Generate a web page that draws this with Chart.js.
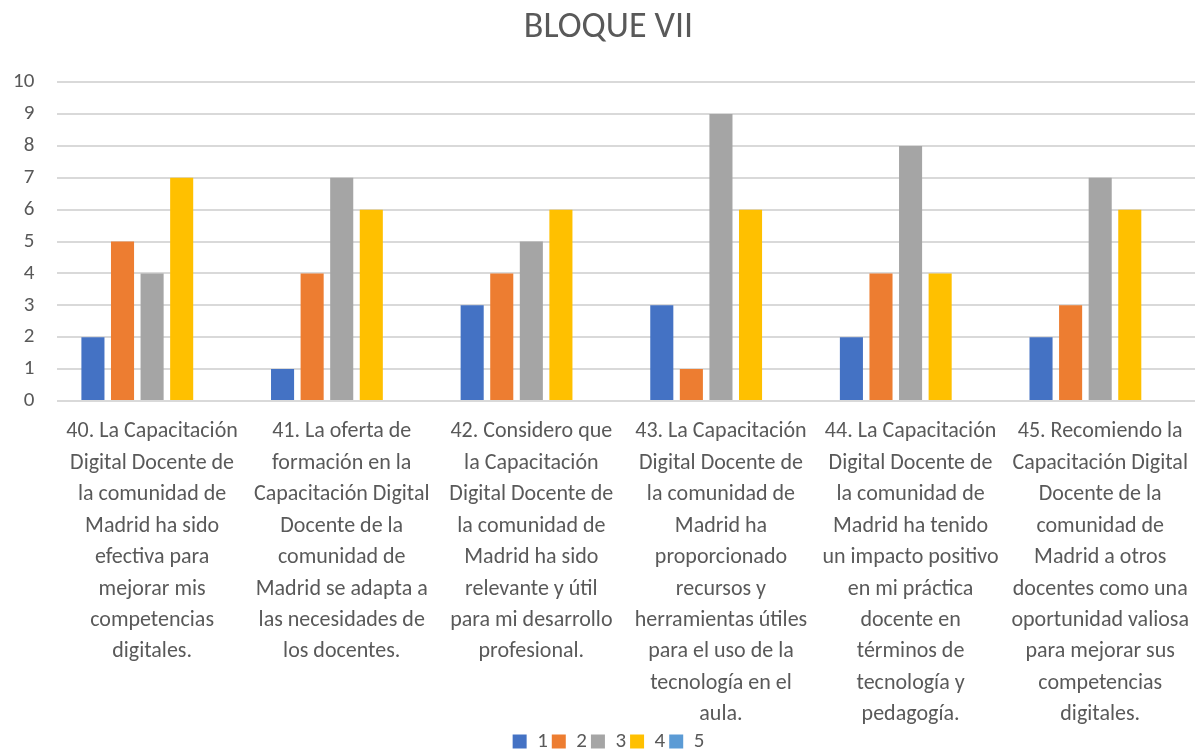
<!DOCTYPE html>
<html>
<head>
<meta charset="utf-8">
<script src="https://cdn.jsdelivr.net/npm/chart.js@4"></script>
<style>
  html, body { margin: 0; padding: 0; background: #fff; }
  #wrap { width: 1200px; height: 749px; }
</style>
</head>
<body>
<div id="wrap"><canvas id="bloqueChart" width="1200" height="749"></canvas></div>
<script>
// categories (already split into lines the way they wrap in the original)
const questions = [
  ['40. La Capacitación', 'Digital Docente de', 'la comunidad de', 'Madrid ha sido', 'efectiva para', 'mejorar mis', 'competencias', 'digitales.'],
  ['41. La oferta de', 'formación en la', 'Capacitación Digital', 'Docente de la', 'comunidad de', 'Madrid se adapta a', 'las necesidades de', 'los docentes.'],
  ['42. Considero que', 'la Capacitación', 'Digital Docente de', 'la comunidad de', 'Madrid ha sido', 'relevante y útil', 'para mi desarrollo', 'profesional.'],
  ['43. La Capacitación', 'Digital Docente de', 'la comunidad de', 'Madrid ha', 'proporcionado', 'recursos y', 'herramientas útiles', 'para el uso de la', 'tecnología en el', 'aula.'],
  ['44. La Capacitación', 'Digital Docente de', 'la comunidad de', 'Madrid ha tenido', 'un impacto positivo', 'en mi práctica', 'docente en', 'términos de', 'tecnología y', 'pedagogía.'],
  ['45. Recomiendo la', 'Capacitación Digital', 'Docente de la', 'comunidad de', 'Madrid a otros', 'docentes como una', 'oportunidad valiosa', 'para mejorar sus', 'competencias', 'digitales.']
];

// answers per rating level
const rating1 = [2, 1, 3, 3, 2, 2];
const rating2 = [5, 4, 4, 1, 4, 3];
const rating3 = [4, 7, 5, 9, 8, 7];
const rating4 = [7, 6, 6, 6, 4, 6];
const rating5 = [0, 0, 0, 0, 0, 0];

const yTicks = [0, 1, 2, 3, 4, 5, 6, 7, 8, 9, 10];

const textColor = '#595959';
const fontFamily = "Calibri, Carlito, 'Open Sans', sans-serif";

function makeSet(label, data, color) {
  return {
    label: label,
    data: data,
    backgroundColor: color,
    borderWidth: 0,
    categoryPercentage: 0.78,
    barPercentage: 0.78
  };
}

new Chart(document.getElementById('bloqueChart').getContext('2d'), {
  type: 'bar',
  data: {
    labels: questions,
    datasets: [
      makeSet('1', rating1, '#4472C4'),
      makeSet('2', rating2, '#ED7D31'),
      makeSet('3', rating3, '#A5A5A5'),
      makeSet('4', rating4, '#FFC000'),
      makeSet('5', rating5, '#5B9BD5')
    ]
  },
  options: {
    responsive: false,
    animation: false,
    // right padding is negative so title and legend centre like the original;
    // the x axis paddingRight below keeps the plot edge inside the canvas
    layout: { padding: { left: -10, right: -27, top: 0, bottom: -13 } },
    plugins: {
      title: {
        display: true,
        text: 'BLOQUE VII',
        color: textColor,
        font: { family: fontFamily, size: 36, weight: 'normal' },
        padding: { top: 6, bottom: 33 }
      },
      legend: {
        position: 'bottom',
        labels: {
          color: textColor,
          font: { family: fontFamily, size: 21 },
          boxWidth: 14,
          boxHeight: 14,
          padding: 4
        }
      },
      tooltip: { enabled: false }
    },
    scales: {
      y: {
        min: 0,
        max: 10,
        afterBuildTicks: axis => { axis.ticks = yTicks.map(v => ({ value: v })); },
        ticks: {
          color: textColor,
          font: { family: fontFamily, size: 21 },
          padding: 23
        },
        grid: { color: '#D9D9D9', lineWidth: 2, drawTicks: false },
        border: { display: false }
      },
      x: {
        // wrapped labels may run down next to the legend
        afterFit: axis => {
          axis.paddingLeft = 0;
          axis.paddingRight = 5;
          axis.height = 326;
          axis._computeLabelArea = () => undefined;
        },
        ticks: {
          color: textColor,
          font: { family: fontFamily, size: 22, lineHeight: 1.43 },
          maxRotation: 0,
          minRotation: 0,
          autoSkip: false,
          padding: 15
        },
        grid: { display: false, drawTicks: false },
        border: { display: false }
      }
    }
  }
});
</script>
</body>
</html>
